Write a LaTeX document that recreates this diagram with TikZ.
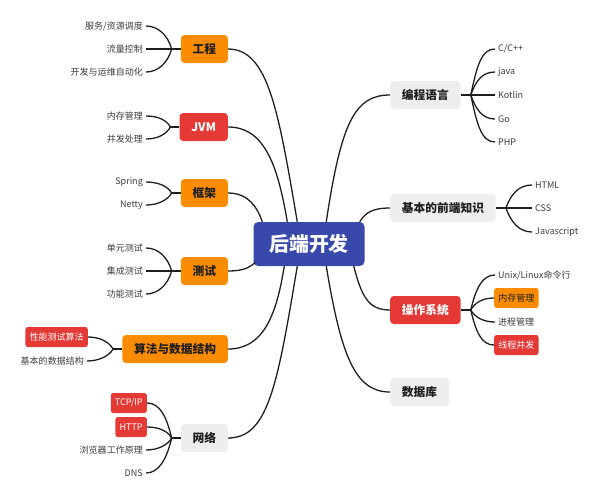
\documentclass[tikz,border=0pt]{standalone}
\usepackage{fontspec}
\newfontfamily\cjk{Noto Sans CJK SC}
\definecolor{rootblue}{RGB}{57,73,171}
\definecolor{xorange}{RGB}{251,140,0}
\definecolor{xred}{RGB}{229,57,53}
\definecolor{xgray}{RGB}{238,238,238}
\definecolor{ink}{RGB}{30,30,30}
\definecolor{leafgray}{RGB}{60,60,60}
\usetikzlibrary{calc,positioning}

\tikzset{
  root/.style={fill=rootblue, text=white, rounded corners=4pt,
    minimum width=3.33cm, minimum height=1.32cm,
    font=\cjk\bfseries\fontsize{17}{20}\selectfont},
  topic/.style={rounded corners=3pt, minimum height=0.84cm, inner xsep=10pt,
    font=\cjk\bfseries\fontsize{10}{12}\selectfont},
  orangetopic/.style={topic, fill=xorange, text=ink},
  redtopic/.style={topic, fill=xred, text=white},
  graytopic/.style={topic, fill=xgray, text=ink},
  leaf/.style={font=\cjk\fontsize{7.7}{9}\selectfont, text=leafgray,
    inner xsep=2.5pt, inner ysep=2pt},
  tag/.style={leaf, rounded corners=2pt, minimum height=0.6cm, inner xsep=3.5pt},
  redtag/.style={tag, fill=xred, text=white},
  orangetag/.style={tag, fill=xorange, text=ink},
  link/.style={draw=ink, line width=1.1pt},
}

\begin{document}
\begin{tikzpicture}[x=0.03cm, y=-0.03cm]
    \useasboundingbox (0,0) rectangle (597,500);

    % Root
    \node[root] (root) at (309,244) {后端开发};

    % Left topics
    \node[orangetopic, anchor=east] (gc) at (228,49) {工程};
    \node[redtopic, anchor=east] (jvm) at (228,127) {JVM};
    \node[orangetopic, anchor=east] (kj) at (228,193) {框架};
    \node[orangetopic, anchor=east] (cs) at (228,271) {测试};
    \node[orangetopic, anchor=east] (sf) at (228,349) {算法与数据结构};
    \node[graytopic, anchor=east] (wl) at (228,438) {网络};

    % Right topics
    \node[graytopic, anchor=west] (yy) at (390,95) {编程语言};
    \node[graytopic, anchor=west] (qd) at (390,208) {基本的前端知识};
    \node[redtopic, anchor=west] (os) at (390,310) {操作系统};
    \node[graytopic, anchor=west] (db) at (390,392) {数据库};

    % Root to topics
    \draw[link] ($(root.north west)+(44,0)$) .. controls +(-19,-112) and +(40,0) .. (gc.east);
    \draw[link] ($(root.north west)+(34,0)$) .. controls +(-10,-60) and +(35,0) .. (jvm.east);
    \draw[link] ($(root.north west)+(9,0)$) .. controls +(-5,-15) and +(20,0) .. (kj.east);
    \draw[link] ($(root.south west)+(2,-4)$) .. controls +(-6,6) and +(14,0) .. (cs.east);
    \draw[link] ($(root.south west)+(31,0)$) .. controls +(-8,50) and +(35,0) .. (sf.east);
    \draw[link] ($(root.south west)+(44,0)$) .. controls +(-20,120) and +(40,0) .. (wl.east);
    \draw[link] ($(root.north west)+(73,0)$) .. controls +(15,-100) and +(-35,0) .. (yy.west);
    \draw[link] ($(root.north east)+(-5,0)$) .. controls +(6,-10) and +(-16,0) .. (qd.west);
    \draw[link] ($(root.south east)+(-11,0)$) .. controls +(8,30) and +(-22,0) .. (os.west);
    \draw[link] ($(root.south west)+(73,0)$) .. controls +(15,90) and +(-35,0) .. (db.west);

    % 工程
    \node[leaf, anchor=east] (g1) at (146,26) {服务/资源调度};
    \node[leaf, anchor=east] (g2) at (146,49) {流量控制};
    \node[leaf, anchor=east] (g3) at (146,72) {开发与运维自动化};
    \draw[link] (gc.west) -- ++(-9,0) coordinate (gcj);
    \draw[link] (gcj) .. controls +(-4,-14) and +(12,0) .. (g1.east);
    \draw[link] (gcj) -- (g2.east);
    \draw[link] (gcj) .. controls +(-4,14) and +(12,0) .. (g3.east);

    % JVM
    \node[leaf, anchor=east] (j1) at (146,116) {内存管理};
    \node[leaf, anchor=east] (j2) at (146,139) {并发处理};
    \draw[link] (jvm.west) -- ++(-9,0) coordinate (jvmj);
    \draw[link] (jvmj) .. controls +(-4,-7) and +(12,0) .. (j1.east);
    \draw[link] (jvmj) .. controls +(-4,7) and +(12,0) .. (j2.east);

    % 框架
    \node[leaf, anchor=east] (k1) at (146,182) {Spring};
    \node[leaf, anchor=east] (k2) at (146,205) {Netty};
    \draw[link] (kj.west) -- ++(-9,0) coordinate (kjj);
    \draw[link] (kjj) .. controls +(-4,-7) and +(12,0) .. (k1.east);
    \draw[link] (kjj) .. controls +(-4,7) and +(12,0) .. (k2.east);

    % 测试
    \node[leaf, anchor=east] (c1) at (146,248) {单元测试};
    \node[leaf, anchor=east] (c2) at (146,271) {集成测试};
    \node[leaf, anchor=east] (c3) at (146,294) {功能测试};
    \draw[link] (cs.west) -- ++(-9,0) coordinate (csj);
    \draw[link] (csj) .. controls +(-4,-14) and +(12,0) .. (c1.east);
    \draw[link] (csj) -- (c2.east);
    \draw[link] (csj) .. controls +(-4,14) and +(12,0) .. (c3.east);

    % 算法与数据结构
    \node[redtag, anchor=east] (s1) at (88,337) {性能测试算法};
    \node[leaf, anchor=east] (s2) at (87,361) {基本的数据结构};
    \draw[link] (sf.west) -- ++(-9,0) coordinate (sfj);
    \draw[link] (sfj) .. controls +(-4,-7) and +(12,0) .. (s1.east);
    \draw[link] (sfj) .. controls +(-4,7) and +(12,0) .. (s2.east);

    % 网络
    \node[redtag, anchor=east] (w1) at (147,403) {TCP/IP};
    \node[redtag, anchor=east] (w2) at (147,427) {HTTP};
    \node[leaf, anchor=east] (w3) at (146,450) {浏览器工作原理};
    \node[leaf, anchor=east] (w4) at (146,473) {DNS};
    \draw[link] (wl.west) -- ++(-9,0) coordinate (wlj);
    \draw[link] (wlj) .. controls +(-5,-21) and +(13,0) .. (w1.east);
    \draw[link] (wlj) .. controls +(-4,-7) and +(12,0) .. (w2.east);
    \draw[link] (wlj) .. controls +(-4,7) and +(12,0) .. (w3.east);
    \draw[link] (wlj) .. controls +(-5,21) and +(13,0) .. (w4.east);

    % 编程语言
    \node[leaf, anchor=west] (y1) at (495,49) {C/C++};
    \node[leaf, anchor=west] (y2) at (495,72) {java};
    \node[leaf, anchor=west] (y3) at (495,95) {Kotlin};
    \node[leaf, anchor=west] (y4) at (495,119) {Go};
    \node[leaf, anchor=west] (y5) at (495,142) {PHP};
    \draw[link] (yy.east) -- ++(10,0) coordinate (yyj);
    \draw[link] (yyj) .. controls +(6,-28) and +(-14,0) .. (y1.west);
    \draw[link] (yyj) .. controls +(5,-14) and +(-13,0) .. (y2.west);
    \draw[link] (yyj) -- (y3.west);
    \draw[link] (yyj) .. controls +(5,14) and +(-13,0) .. (y4.west);
    \draw[link] (yyj) .. controls +(6,28) and +(-14,0) .. (y5.west);

    % 基本的前端知识
    \node[leaf, anchor=west] (q1) at (532,185) {HTML};
    \node[leaf, anchor=west] (q2) at (532,208) {CSS};
    \node[leaf, anchor=west] (q3) at (532,232) {Javascript};
    \draw[link] (qd.east) -- ++(10,0) coordinate (qdj);
    \draw[link] (qdj) .. controls +(5,-14) and +(-13,0) .. (q1.west);
    \draw[link] (qdj) -- (q2.west);
    \draw[link] (qdj) .. controls +(5,14) and +(-13,0) .. (q3.west);

    % 操作系统
    \node[leaf, anchor=west] (o1) at (495,275) {Unix/Linux命令行};
    \node[orangetag, anchor=west] (o2) at (494,298) {内存管理};
    \node[leaf, anchor=west] (o3) at (495,322) {进程管理};
    \node[redtag, anchor=west] (o4) at (494,345) {线程并发};
    \draw[link] (os.east) -- ++(10,0) coordinate (osj);
    \draw[link] (osj) .. controls +(5,-21) and +(-13,0) .. (o1.west);
    \draw[link] (osj) .. controls +(4,-7) and +(-12,0) .. (o2.west);
    \draw[link] (osj) .. controls +(4,7) and +(-12,0) .. (o3.west);
    \draw[link] (osj) .. controls +(5,21) and +(-13,0) .. (o4.west);
\end{tikzpicture}
\end{document}
